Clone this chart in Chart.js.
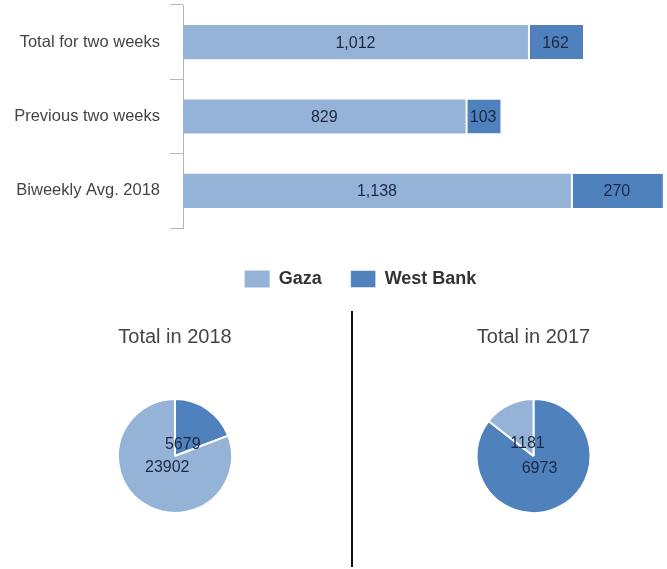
<!DOCTYPE html>
<html lang="en">
<head>
    <meta charset="UTF-8">
    <title>Gaza / West Bank</title>
    <script src="https://cdn.jsdelivr.net/npm/chart.js"></script>
    <style>
        body {
            margin: 0;
            background: #fff;
            font-family: "Liberation Sans", Arial, sans-serif;
        }
        .page {
            position: relative;
            width: 667px;
            height: 569px;
            overflow: hidden;
        }
        .box { position: absolute; }
        .divider {
            position: absolute;
            left: 351px;
            top: 311px;
            width: 2px;
            height: 256px;
            background: #111;
        }
    </style>
</head>
<body>
<div class="page">
    <div class="box" style="left:0;top:0;width:667px;height:298px;"><canvas id="barChart"></canvas></div>
    <div class="box" style="left:0;top:300px;width:350px;height:269px;"><canvas id="pie2018"></canvas></div>
    <div class="box" style="left:400px;top:300px;width:267px;height:269px;"><canvas id="pie2017"></canvas></div>
    <div class="divider"></div>
</div>

<script>
    // data
    const categories = ['Total for two weeks', 'Previous two weeks', 'Biweekly Avg. 2018'];
    const gazaValues = [1012, 829, 1138];
    const westBankValues = [162, 103, 270];

    const pieLabels = ['West Bank', 'Gaza'];
    const total2018 = [5679, 23902];
    const total2017 = [6973, 1181];

    const lightBlue = '#95b3d7';
    const darkBlue = '#4f81bd';
    const labelColor = '#1c2844';

    Chart.defaults.font.family = '"Liberation Sans", Arial, sans-serif';
    Chart.defaults.animation = false;

    // writes the value in the middle of each bar segment
    const barValues = {
        id: 'barValues',
        afterDatasetsDraw(chart) {
            const ctx = chart.ctx;
            ctx.save();
            ctx.font = '16px "Liberation Sans", Arial, sans-serif';
            ctx.fillStyle = labelColor;
            ctx.textAlign = 'center';
            ctx.textBaseline = 'middle';
            chart.data.datasets.forEach((ds, i) => {
                chart.getDatasetMeta(i).data.forEach((bar, j) => {
                    const p = bar.getProps(['x', 'y', 'base'], true);
                    ctx.fillText(ds.data[j].toLocaleString('en-US'), (p.x + p.base) / 2, p.y + 1);
                });
            });
            ctx.restore();
        }
    };

    // legend in the original sits a bit right of the page centre
    const legendShift = {
        id: 'legendShift',
        afterLayout(chart) {
            chart.legend.left += 54;
        }
    };

    // pie values sit close to the centre, along the middle of each slice
    const pieValues = {
        id: 'pieValues',
        afterDatasetsDraw(chart) {
            const ctx = chart.ctx;
            ctx.save();
            ctx.font = '16px "Liberation Sans", Arial, sans-serif';
            ctx.fillStyle = labelColor;
            ctx.textAlign = 'center';
            ctx.textBaseline = 'middle';
            const ds = chart.data.datasets[0];
            chart.getDatasetMeta(0).data.forEach((arc, j) => {
                const p = arc.getProps(['x', 'y', 'startAngle', 'endAngle', 'outerRadius'], true);
                const mid = (p.startAngle + p.endAngle) / 2;
                const r = p.outerRadius * 0.24;
                ctx.fillText(String(ds.data[j]), p.x + Math.cos(mid) * r, p.y + Math.sin(mid) * r);
            });
            ctx.restore();
        }
    };

    new Chart(document.getElementById('barChart'), {
        type: 'bar',
        data: {
            labels: categories,
            datasets: [{
                label: 'Gaza',
                data: gazaValues,
                backgroundColor: lightBlue,
                borderWidth: 0
            }, {
                label: 'West Bank',
                data: westBankValues,
                backgroundColor: darkBlue,
                borderColor: '#ffffff',
                borderWidth: {left: 2, right: 0, top: 0, bottom: 0},
                borderSkipped: false
            }]
        },
        options: {
            indexAxis: 'y',
            responsive: true,
            maintainAspectRatio: false,
            layout: {padding: {top: 5, left: 0, right: 0, bottom: 0}},
            datasets: {bar: {categoryPercentage: 1, barPercentage: 0.46}},
            scales: {
                x: {
                    stacked: true,
                    min: 0,
                    max: 1420,
                    ticks: {display: false},
                    grid: {display: false},
                    border: {display: false},
                    afterFit(scale) { scale.height = 13; }
                },
                y: {
                    stacked: true,
                    grid: {drawOnChartArea: false, color: '#b5b5b5', tickLength: 13},
                    border: {color: '#b5b5b5', width: 1},
                    ticks: {color: '#444', padding: 10, font: {size: 16.5}},
                    afterFit(scale) {
                        scale.width = 183;
                        scale.paddingTop = 0;
                        scale.paddingBottom = 0;
                    }
                }
            },
            plugins: {
                legend: {
                    position: 'bottom',
                    labels: {
                        boxWidth: 25,
                        boxHeight: 17,
                        padding: 29,
                        color: '#333',
                        font: {size: 18, weight: 'bold'}
                    }
                },
                tooltip: {enabled: false}
            }
        },
        plugins: [barValues, legendShift]
    });

    function makePie(id, title, values, side) {
        new Chart(document.getElementById(id), {
            type: 'pie',
            data: {
                labels: pieLabels,
                datasets: [{
                    data: values,
                    backgroundColor: [darkBlue, lightBlue],
                    borderColor: '#ffffff',
                    borderWidth: 2
                }]
            },
            options: {
                responsive: true,
                maintainAspectRatio: false,
                layout: {padding: {left: side, right: side, top: 0, bottom: 55}},
                plugins: {
                    legend: {display: false},
                    tooltip: {enabled: false},
                    title: {
                        display: true,
                        text: title,
                        color: '#444',
                        font: {size: 20, weight: 'normal'},
                        padding: {top: 25, bottom: 49}
                    }
                }
            },
            plugins: [pieValues]
        });
    }

    makePie('pie2018', 'Total in 2018', total2018, 116);
    makePie('pie2017', 'Total in 2017', total2017, 75);
</script>
</body>
</html>
